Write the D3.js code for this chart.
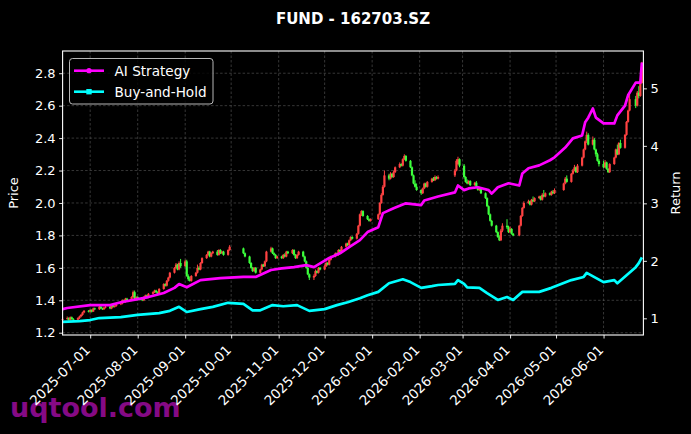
<!DOCTYPE html>
<html>
<head>
<meta charset="utf-8">
<script src="https://cdn.jsdelivr.net/npm/d3@7"></script>
<style>
  html, body { margin: 0; padding: 0; background: #000; }
  svg { display: block; font-family: "DejaVu Sans", sans-serif; }
</style>
</head>
<body>
<div id="chart"></div>
<script>
// daily candles: date, open, high, low, close
const candles = [
  ["2025-06-13",1.28,1.295,1.275,1.285],["2025-06-16",1.285,1.30,1.28,1.29],["2025-06-17",1.29,1.295,1.275,1.28],
  ["2025-06-18",1.28,1.30,1.275,1.295],["2025-06-19",1.295,1.30,1.28,1.285],["2025-06-20",1.285,1.29,1.275,1.28],
  ["2025-06-23",1.28,1.295,1.275,1.29],["2025-06-24",1.29,1.305,1.285,1.30],["2025-06-25",1.30,1.315,1.295,1.31],
  ["2025-06-26",1.31,1.33,1.305,1.325],["2025-06-27",1.325,1.34,1.32,1.335],["2025-06-30",1.335,1.34,1.325,1.33],
  ["2025-07-01",1.33,1.345,1.325,1.34],["2025-07-02",1.34,1.345,1.325,1.33],["2025-07-03",1.33,1.355,1.33,1.35],
  ["2025-07-04",1.35,1.355,1.34,1.345],["2025-07-07",1.345,1.365,1.34,1.36],["2025-07-08",1.36,1.365,1.345,1.35],
  ["2025-07-09",1.35,1.355,1.34,1.345],["2025-07-10",1.345,1.36,1.34,1.355],["2025-07-11",1.355,1.37,1.35,1.36],
  ["2025-07-14",1.36,1.365,1.345,1.35],["2025-07-15",1.35,1.375,1.345,1.37],["2025-07-16",1.37,1.375,1.355,1.36],
  ["2025-07-17",1.36,1.37,1.355,1.365],["2025-07-18",1.365,1.38,1.36,1.375],["2025-07-21",1.375,1.39,1.37,1.38],
  ["2025-07-22",1.38,1.405,1.375,1.40],["2025-07-23",1.40,1.405,1.385,1.39],["2025-07-24",1.39,1.415,1.385,1.41],
  ["2025-07-25",1.41,1.415,1.395,1.40],["2025-07-28",1.40,1.425,1.395,1.42],["2025-07-29",1.42,1.46,1.415,1.45],
  ["2025-07-30",1.45,1.46,1.405,1.41],["2025-07-31",1.41,1.425,1.40,1.42],
  ["2025-08-01",1.42,1.425,1.40,1.41],["2025-08-04",1.41,1.415,1.395,1.40],["2025-08-05",1.40,1.425,1.395,1.42],
  ["2025-08-06",1.42,1.435,1.415,1.43],["2025-08-07",1.43,1.435,1.415,1.42],["2025-08-08",1.42,1.445,1.415,1.44],
  ["2025-08-11",1.44,1.455,1.435,1.45],["2025-08-12",1.45,1.465,1.445,1.46],["2025-08-13",1.46,1.465,1.445,1.45],
  ["2025-08-14",1.45,1.455,1.435,1.44],["2025-08-15",1.44,1.475,1.435,1.47],["2025-08-18",1.47,1.505,1.465,1.50],
  ["2025-08-19",1.50,1.505,1.485,1.49],["2025-08-20",1.49,1.525,1.485,1.52],["2025-08-21",1.52,1.545,1.515,1.54],
  ["2025-08-22",1.54,1.575,1.535,1.57],["2025-08-25",1.57,1.605,1.565,1.60],["2025-08-26",1.60,1.63,1.595,1.62],
  ["2025-08-27",1.62,1.625,1.585,1.59],["2025-08-28",1.59,1.64,1.585,1.63],["2025-08-29",1.63,1.655,1.60,1.61],
  ["2025-09-01",1.61,1.65,1.605,1.64],["2025-09-02",1.64,1.65,1.545,1.55],["2025-09-03",1.55,1.56,1.52,1.53],
  ["2025-09-04",1.53,1.545,1.515,1.52],["2025-09-05",1.52,1.555,1.515,1.55],["2025-09-08",1.55,1.575,1.545,1.57],
  ["2025-09-09",1.57,1.62,1.565,1.60],["2025-09-10",1.60,1.61,1.585,1.59],["2025-09-11",1.59,1.635,1.585,1.63],
  ["2025-09-12",1.63,1.665,1.625,1.66],["2025-09-15",1.66,1.685,1.655,1.68],["2025-09-16",1.68,1.705,1.675,1.70],
  ["2025-09-17",1.70,1.705,1.665,1.67],["2025-09-18",1.67,1.695,1.665,1.69],["2025-09-19",1.69,1.705,1.685,1.70],
  ["2025-09-22",1.70,1.71,1.675,1.68],["2025-09-23",1.68,1.715,1.675,1.71],["2025-09-24",1.71,1.715,1.685,1.69],
  ["2025-09-25",1.69,1.705,1.685,1.70],["2025-09-26",1.70,1.705,1.675,1.68],["2025-09-29",1.68,1.715,1.675,1.71],
  ["2025-09-30",1.71,1.74,1.705,1.73],
  ["2025-10-09",1.72,1.725,1.685,1.69],["2025-10-10",1.69,1.695,1.665,1.67],["2025-10-13",1.67,1.675,1.625,1.63],
  ["2025-10-14",1.63,1.635,1.595,1.60],["2025-10-15",1.60,1.605,1.575,1.58],["2025-10-16",1.58,1.605,1.575,1.60],
  ["2025-10-17",1.60,1.605,1.565,1.57],["2025-10-20",1.57,1.595,1.565,1.59],["2025-10-21",1.59,1.625,1.585,1.62],
  ["2025-10-22",1.62,1.625,1.605,1.61],["2025-10-23",1.61,1.645,1.605,1.64],["2025-10-24",1.64,1.705,1.635,1.70],
  ["2025-10-27",1.70,1.73,1.695,1.72],["2025-10-28",1.72,1.725,1.685,1.69],["2025-10-29",1.69,1.695,1.675,1.68],
  ["2025-10-30",1.68,1.685,1.655,1.66],["2025-10-31",1.66,1.675,1.655,1.67],
  ["2025-11-03",1.67,1.675,1.655,1.66],["2025-11-04",1.66,1.685,1.655,1.68],["2025-11-05",1.68,1.69,1.665,1.67],
  ["2025-11-06",1.67,1.705,1.665,1.70],["2025-11-07",1.70,1.705,1.685,1.69],["2025-11-10",1.69,1.715,1.685,1.71],
  ["2025-11-11",1.71,1.715,1.675,1.68],["2025-11-12",1.68,1.685,1.655,1.66],["2025-11-13",1.66,1.685,1.655,1.68],
  ["2025-11-14",1.68,1.705,1.675,1.70],["2025-11-17",1.70,1.705,1.665,1.67],["2025-11-18",1.67,1.675,1.635,1.64],
  ["2025-11-19",1.64,1.645,1.595,1.60],["2025-11-20",1.60,1.605,1.555,1.56],["2025-11-21",1.56,1.565,1.525,1.54],
  ["2025-11-24",1.54,1.56,1.525,1.55],["2025-11-25",1.55,1.59,1.545,1.58],["2025-11-26",1.58,1.585,1.565,1.57],
  ["2025-11-27",1.57,1.605,1.565,1.60],["2025-11-28",1.60,1.605,1.585,1.59],
  ["2025-12-01",1.59,1.62,1.585,1.61],["2025-12-02",1.61,1.64,1.605,1.63],["2025-12-03",1.63,1.635,1.615,1.62],
  ["2025-12-04",1.62,1.655,1.615,1.65],["2025-12-05",1.65,1.675,1.645,1.67],["2025-12-08",1.67,1.695,1.665,1.69],
  ["2025-12-09",1.69,1.695,1.675,1.68],["2025-12-10",1.68,1.715,1.675,1.71],["2025-12-11",1.71,1.715,1.695,1.70],
  ["2025-12-12",1.70,1.735,1.695,1.73],["2025-12-15",1.73,1.755,1.725,1.75],["2025-12-16",1.75,1.755,1.735,1.74],
  ["2025-12-17",1.74,1.775,1.735,1.77],["2025-12-18",1.77,1.795,1.765,1.79],["2025-12-19",1.79,1.795,1.775,1.78],
  ["2025-12-22",1.78,1.815,1.775,1.81],["2025-12-23",1.81,1.865,1.805,1.86],["2025-12-24",1.86,1.935,1.855,1.93],
  ["2025-12-25",1.93,1.955,1.92,1.95],["2025-12-26",1.95,1.955,1.915,1.92],["2025-12-29",1.92,1.925,1.895,1.90],
  ["2025-12-30",1.90,1.905,1.885,1.89],["2025-12-31",1.89,1.905,1.885,1.90],
  ["2026-01-05",1.90,1.935,1.895,1.93],["2026-01-06",1.93,2.005,1.925,2.00],["2026-01-07",2.00,2.06,1.995,2.05],
  ["2026-01-08",2.05,2.11,2.045,2.10],["2026-01-09",2.10,2.20,2.095,2.17],["2026-01-12",2.17,2.18,2.14,2.15],
  ["2026-01-13",2.15,2.19,2.145,2.18],["2026-01-14",2.18,2.185,2.155,2.16],["2026-01-15",2.16,2.20,2.155,2.19],
  ["2026-01-16",2.19,2.225,2.185,2.22],["2026-01-19",2.22,2.25,2.215,2.24],["2026-01-20",2.24,2.245,2.225,2.23],
  ["2026-01-21",2.23,2.275,2.225,2.27],["2026-01-22",2.27,2.30,2.265,2.29],["2026-01-23",2.29,2.295,2.255,2.26],
  ["2026-01-26",2.26,2.265,2.215,2.22],["2026-01-27",2.22,2.225,2.165,2.17],["2026-01-28",2.17,2.175,2.115,2.12],
  ["2026-01-29",2.12,2.14,2.095,2.10],["2026-01-30",2.10,2.12,2.075,2.08],
  ["2026-02-02",2.08,2.085,2.05,2.06],["2026-02-03",2.06,2.095,2.055,2.09],["2026-02-04",2.09,2.125,2.085,2.12],
  ["2026-02-05",2.12,2.125,2.095,2.10],["2026-02-06",2.10,2.135,2.095,2.13],["2026-02-09",2.13,2.155,2.125,2.15],
  ["2026-02-10",2.15,2.16,2.135,2.14],["2026-02-11",2.14,2.17,2.135,2.16],["2026-02-12",2.16,2.165,2.145,2.15],
  ["2026-02-13",2.15,2.17,2.145,2.16],["2026-02-24",2.17,2.21,2.16,2.20],["2026-02-25",2.20,2.27,2.195,2.26],
  ["2026-02-26",2.24,2.285,2.235,2.27],["2026-02-27",2.27,2.275,2.22,2.23],
  ["2026-03-02",2.23,2.24,2.15,2.16],["2026-03-03",2.16,2.165,2.125,2.13],["2026-03-04",2.13,2.145,2.115,2.12],
  ["2026-03-05",2.12,2.14,2.115,2.135],["2026-03-06",2.135,2.14,2.105,2.11],["2026-03-09",2.11,2.13,2.105,2.125],
  ["2026-03-10",2.125,2.135,2.095,2.10],["2026-03-11",2.10,2.105,2.075,2.08],["2026-03-12",2.08,2.10,2.075,2.09],
  ["2026-03-13",2.09,2.095,2.055,2.06],["2026-03-16",2.06,2.065,2.025,2.03],["2026-03-17",2.03,2.035,1.975,1.98],
  ["2026-03-18",1.98,1.985,1.925,1.93],["2026-03-19",1.93,1.935,1.885,1.89],["2026-03-20",1.89,1.895,1.855,1.86],
  ["2026-03-23",1.86,1.865,1.815,1.82],["2026-03-24",1.82,1.825,1.785,1.79],["2026-03-25",1.79,1.80,1.765,1.77],
  ["2026-03-26",1.77,1.84,1.765,1.83],["2026-03-27",1.83,1.875,1.82,1.86],["2026-03-30",1.86,1.90,1.84,1.85],
  ["2026-03-31",1.85,1.86,1.815,1.82],
  ["2026-04-01",1.82,1.855,1.815,1.84],["2026-04-02",1.84,1.845,1.805,1.81],["2026-04-03",1.81,1.815,1.795,1.80],
  ["2026-04-07",1.80,1.865,1.795,1.86],["2026-04-08",1.86,1.925,1.855,1.92],["2026-04-09",1.92,1.975,1.915,1.97],
  ["2026-04-10",1.97,2.01,1.965,2.00],["2026-04-13",2.00,2.02,1.995,2.01],["2026-04-14",2.01,2.015,1.985,1.99],
  ["2026-04-15",1.99,2.025,1.985,2.02],["2026-04-16",2.02,2.04,2.005,2.01],["2026-04-17",2.01,2.035,2.005,2.03],
  ["2026-04-20",2.03,2.045,2.025,2.04],["2026-04-21",2.04,2.045,2.015,2.02],["2026-04-22",2.02,2.06,2.015,2.05],
  ["2026-04-23",2.05,2.08,2.035,2.04],["2026-04-24",2.04,2.065,2.035,2.06],["2026-04-27",2.06,2.065,2.045,2.05],
  ["2026-04-28",2.05,2.075,2.045,2.07],["2026-04-29",2.07,2.08,2.055,2.06],["2026-04-30",2.06,2.09,2.055,2.08],
  ["2026-05-06",2.08,2.125,2.075,2.12],["2026-05-07",2.12,2.16,2.115,2.15],["2026-05-08",2.15,2.17,2.125,2.13],
  ["2026-05-11",2.13,2.185,2.125,2.18],["2026-05-12",2.18,2.21,2.175,2.20],["2026-05-13",2.20,2.235,2.195,2.22],
  ["2026-05-14",2.22,2.225,2.185,2.19],["2026-05-15",2.19,2.24,2.185,2.23],["2026-05-18",2.23,2.285,2.225,2.28],
  ["2026-05-19",2.28,2.335,2.275,2.33],["2026-05-20",2.33,2.385,2.325,2.38],["2026-05-21",2.38,2.44,2.37,2.42],
  ["2026-05-22",2.42,2.43,2.355,2.36],["2026-05-25",2.36,2.41,2.355,2.39],["2026-05-26",2.39,2.40,2.325,2.33],
  ["2026-05-27",2.33,2.335,2.285,2.30],["2026-05-28",2.30,2.31,2.255,2.26],["2026-05-29",2.26,2.27,2.225,2.24],
  ["2026-06-01",2.24,2.26,2.215,2.22],["2026-06-02",2.22,2.265,2.215,2.25],["2026-06-03",2.25,2.255,2.205,2.21],
  ["2026-06-04",2.21,2.215,2.185,2.19],["2026-06-05",2.19,2.245,2.185,2.24],["2026-06-08",2.24,2.285,2.235,2.28],
  ["2026-06-09",2.28,2.335,2.275,2.33],["2026-06-10",2.33,2.36,2.295,2.30],["2026-06-11",2.30,2.375,2.295,2.37],
  ["2026-06-12",2.37,2.39,2.335,2.34],["2026-06-15",2.34,2.425,2.335,2.42],["2026-06-16",2.42,2.505,2.415,2.50],
  ["2026-06-17",2.50,2.575,2.495,2.57],["2026-06-18",2.57,2.67,2.565,2.64],["2026-06-22",2.64,2.66,2.585,2.60],
  ["2026-06-23",2.60,2.69,2.595,2.68],["2026-06-24",2.68,2.72,2.645,2.66],["2026-06-25",2.66,2.745,2.655,2.74],
  ["2026-06-26",2.74,2.87,2.735,2.84]
];

// cumulative return of the AI strategy (right axis)
const strategyReturn = [
  ["2025-06-13",1.16],["2025-06-16",1.18],["2025-07-01",1.23],["2025-07-14",1.23],["2025-07-21",1.28],
  ["2025-08-01",1.335],["2025-08-08",1.37],["2025-08-18",1.44],["2025-08-25",1.53],["2025-08-28",1.595],
  ["2025-09-02",1.54],["2025-09-11",1.665],["2025-09-24",1.70],["2025-10-09",1.72],["2025-10-17",1.72],
  ["2025-10-27",1.84],["2025-11-03",1.87],["2025-11-11",1.89],["2025-11-19",1.925],["2025-11-24",1.89],
  ["2025-12-04",2.05],["2025-12-11",2.13],["2025-12-17",2.24],["2025-12-24",2.36],["2025-12-29",2.50],
  ["2026-01-05",2.585],["2026-01-08",2.83],["2026-01-15",2.915],["2026-01-23",3.00],["2026-02-02",2.97],
  ["2026-02-04",3.05],["2026-02-13",3.12],["2026-02-24",3.19],["2026-02-26",3.31],["2026-03-02",3.23],
  ["2026-03-05",3.26],["2026-03-11",3.28],["2026-03-18",3.23],["2026-03-20",3.17],["2026-03-24",3.28],
  ["2026-03-31",3.35],["2026-04-07",3.31],["2026-04-09",3.52],["2026-04-13",3.61],["2026-04-20",3.66],
  ["2026-04-27",3.75],["2026-04-30",3.80],["2026-05-07",3.97],["2026-05-12",4.13],["2026-05-18",4.18],
  ["2026-05-20",4.41],["2026-05-22",4.49],["2026-05-25",4.65],["2026-05-27",4.49],["2026-06-01",4.39],
  ["2026-06-08",4.39],["2026-06-10",4.53],["2026-06-15",4.70],["2026-06-17",4.88],["2026-06-22",5.10],
  ["2026-06-25",5.10],["2026-06-26",5.45]
];

// cumulative return of buy-and-hold (right axis)
const holdReturn = [
  ["2025-06-13",0.94],["2025-06-24",0.95],["2025-07-01",0.97],["2025-07-07",1.005],["2025-07-21",1.02],
  ["2025-08-01",1.06],["2025-08-15",1.09],["2025-08-22",1.13],["2025-08-28",1.20],["2025-09-02",1.11],
  ["2025-09-11",1.16],["2025-09-19",1.20],["2025-09-29",1.27],["2025-10-09",1.25],["2025-10-15",1.14],
  ["2025-10-20",1.14],["2025-10-28",1.23],["2025-11-04",1.21],["2025-11-13",1.23],["2025-11-21",1.13],
  ["2025-12-01",1.16],["2025-12-09",1.23],["2025-12-16",1.28],["2025-12-24",1.35],["2025-12-29",1.40],
  ["2026-01-05",1.46],["2026-01-12",1.61],["2026-01-21",1.68],["2026-01-26",1.63],["2026-02-02",1.53],
  ["2026-02-09",1.56],["2026-02-13",1.58],["2026-02-24",1.60],["2026-02-26",1.665],["2026-03-02",1.60],
  ["2026-03-04",1.54],["2026-03-12",1.53],["2026-03-17",1.44],["2026-03-24",1.32],["2026-03-30",1.37],
  ["2026-04-03",1.32],["2026-04-09",1.46],["2026-04-20",1.46],["2026-04-28",1.53],["2026-05-11",1.665],
  ["2026-05-19",1.72],["2026-05-21",1.79],["2026-06-01",1.63],["2026-06-08",1.665],["2026-06-10",1.61],
  ["2026-06-16",1.75],["2026-06-22",1.89],["2026-06-24",1.96],["2026-06-26",2.06]
];

const priceTicks = [1.2, 1.4, 1.6, 1.8, 2.0, 2.2, 2.4, 2.6, 2.8];
const returnTicks = [1, 2, 3, 4, 5];
const monthTicks = ["2025-07-01","2025-08-01","2025-09-01","2025-10-01","2025-11-01","2025-12-01",
                    "2026-01-01","2026-02-01","2026-03-01","2026-04-01","2026-05-01","2026-06-01"];
const seriesNames = ["AI Strategy", "Buy-and-Hold"];

const w = 691, h = 434;
const padL = 62.6, padR = 643.4, padT = 51, padB = 335;
const parse = d3.utcParse("%Y-%m-%d");
const upColor = "#ff4242", downColor = "#3cff3c";
const stratColor = "#ff00ff", holdColor = "#00ffff";

const xScale = d3.scaleUtc()
  .domain([parse("2025-06-13"), parse("2026-06-27")])
  .range([padL, padR]);
const yPrice = d3.scaleLinear().domain([1.186, 2.937]).range([padB, padT]);
const yRet = d3.scaleLinear().domain([0.71, 5.65]).range([padB, padT]);

const svg = d3.select("#chart").append("svg")
  .attr("width", w).attr("height", h);
svg.append("rect").attr("width", w).attr("height", h).attr("fill", "#000");

// watermark
svg.append("text")
  .attr("x", 10).attr("y", 417)
  .attr("fill", "#850a85").attr("font-size", 27).attr("font-weight", "bold")
  .text("uqtool.com");

// grid
const grid = svg.append("g").attr("stroke", "#5a5a5a").attr("stroke-width", 0.6)
  .attr("stroke-dasharray", "2.5,2");
grid.selectAll("line.gx").data(monthTicks).enter().append("line")
  .attr("x1", d => xScale(parse(d))).attr("x2", d => xScale(parse(d)))
  .attr("y1", padT).attr("y2", padB);
grid.selectAll("line.gy").data(priceTicks).enter().append("line")
  .attr("x1", padL).attr("x2", padR)
  .attr("y1", d => yPrice(d)).attr("y2", d => yPrice(d));

// candles
const cg = svg.append("g");
const bars = cg.selectAll("g").data(candles).enter().append("g")
  .attr("fill", d => d[4] >= d[1] ? upColor : downColor)
  .attr("stroke", d => d[4] >= d[1] ? upColor : downColor);
bars.append("line")
  .attr("x1", d => xScale(parse(d[0]))).attr("x2", d => xScale(parse(d[0])))
  .attr("y1", d => yPrice(d[2])).attr("y2", d => yPrice(d[3]))
  .attr("stroke-width", 1);
bars.append("rect")
  .attr("x", d => xScale(parse(d[0])) - 1.1)
  .attr("width", 2.2)
  .attr("y", d => yPrice(Math.max(d[1], d[4])))
  .attr("height", d => Math.max(0.8, Math.abs(yPrice(d[1]) - yPrice(d[4]))))
  .attr("stroke", "none");

// return lines
const line = d3.line().x(d => xScale(parse(d[0]))).y(d => yRet(d[1]));
svg.append("path").datum(holdReturn).attr("d", line)
  .attr("fill", "none").attr("stroke", holdColor).attr("stroke-width", 2.7)
  .attr("stroke-linejoin", "round");
svg.append("path").datum(strategyReturn).attr("d", line)
  .attr("fill", "none").attr("stroke", stratColor).attr("stroke-width", 2.7)
  .attr("stroke-linejoin", "round");

// axes
const xAxis = d3.axisBottom(xScale)
  .tickValues(monthTicks.map(parse))
  .tickFormat(d3.utcFormat("%Y-%m-%d"))
  .tickSize(3.5).tickPadding(3);
const gx = svg.append("g").attr("transform", "translate(0," + padB + ")").call(xAxis);

const gyl = svg.append("g").attr("transform", "translate(" + padL + ",0)")
  .call(d3.axisLeft(yPrice).tickValues(priceTicks).tickFormat(d3.format(".1f")).tickSize(3.5).tickPadding(3.5));
const gyr = svg.append("g").attr("transform", "translate(" + padR + ",0)")
  .call(d3.axisRight(yRet).tickValues(returnTicks).tickFormat(d3.format("d")).tickSize(3.5).tickPadding(3.5));

[gx, gyl, gyr].forEach(g => {
  g.select(".domain").remove();
  g.selectAll("line").attr("stroke", "#fff").attr("stroke-width", 0.9);
  g.selectAll("text").attr("fill", "#fff").attr("font-size", 13)
    .attr("font-family", "DejaVu Sans, sans-serif");
});
gx.selectAll("text")
  .attr("x", 0).attr("y", 0)
  .attr("text-anchor", "end")
  .attr("font-size", 13.5)
  .attr("transform", "translate(-3,12.5) rotate(-45)")
  .attr("dx", 0).attr("dy", "0.35em");

// frame
svg.append("rect")
  .attr("x", padL).attr("y", padT).attr("width", padR - padL).attr("height", padB - padT)
  .attr("fill", "none").attr("stroke", "#fff").attr("stroke-width", 1.1);

// axis labels and title
svg.append("text").attr("transform", "translate(18," + (padT + padB) / 2 + ") rotate(-90)")
  .attr("text-anchor", "middle").attr("fill", "#fff").attr("font-size", 13).text("Price");
svg.append("text").attr("transform", "translate(680," + (padT + padB) / 2 + ") rotate(-90)")
  .attr("text-anchor", "middle").attr("fill", "#fff").attr("font-size", 13).text("Return");
svg.append("text").attr("x", (padL + padR) / 2).attr("y", 24)
  .attr("text-anchor", "middle").attr("fill", "#fff").attr("font-size", 15)
  .attr("font-weight", "bold").text("FUND - 162703.SZ");

// legend
const lg = svg.append("g");
lg.append("rect").attr("x", 69.5).attr("y", 58.5).attr("width", 143.5).attr("height", 45.5)
  .attr("rx", 3).attr("fill", "#000").attr("fill-opacity", 0.8)
  .attr("stroke", "#cccccc").attr("stroke-width", 0.9);
const items = lg.selectAll("g").data(seriesNames).enter().append("g")
  .attr("transform", (d, i) => "translate(0," + (70.7 + i * 21) + ")");
items.append("line").attr("x1", 74).attr("x2", 104)
  .attr("stroke", (d, i) => i === 0 ? stratColor : holdColor).attr("stroke-width", 2.6);
items.filter((d, i) => i === 0).append("circle").attr("cx", 89).attr("r", 2.6).attr("fill", stratColor);
items.filter((d, i) => i === 1).append("rect").attr("x", 86.3).attr("y", -2.7)
  .attr("width", 5.4).attr("height", 5.4).attr("fill", holdColor);
items.append("text").attr("x", 114.5).attr("y", 4.8)
  .attr("fill", "#fff").attr("font-size", 13.6).text(d => d);
</script>
</body>
</html>
